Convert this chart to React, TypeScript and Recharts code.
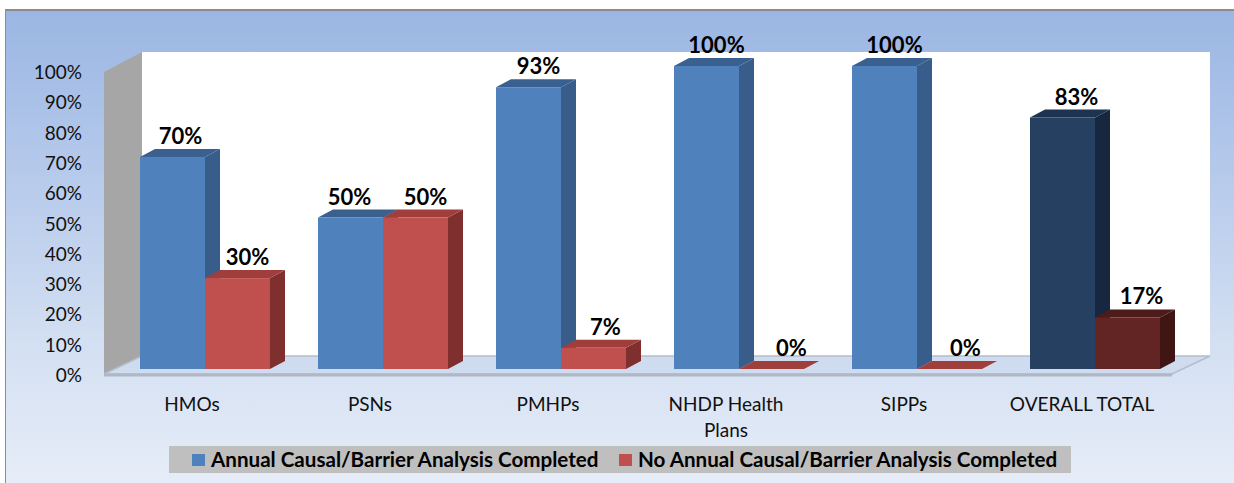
import React from "react";
import { BarChart, Bar, XAxis, YAxis, Cell, LabelList, Legend } from "recharts";

const categories = ["HMOs", "PSNs", "PMHPs", "NHDP Health Plans", "SIPPs", "OVERALL TOTAL"];
const completed = [70, 50, 93, 100, 100, 83];
const notCompleted = [30, 50, 7, 0, 0, 17];
const percentTicks = [0, 10, 20, 30, 40, 50, 60, 70, 80, 90, 100];

const completedName = "Annual Causal/Barrier Analysis Completed";
const notCompletedName = "No Annual Causal/Barrier Analysis Completed";

const data = categories.map((name, i) => ({
  name,
  completed: completed[i],
  notCompleted: notCompleted[i],
}));

const FONT = "Lato, 'Open Sans', sans-serif";
const W = 1234;
const H = 483;
// plot box of the front bars
const PLOT = { left: 116, right: 1184, top: 66, bottom: 369 };
const BAR_DEPTH = { x: 15, y: 8 };

// fake 3d faces, front / side / top
const BLUE = { front: "#4f81bd", side: "#385d8a", top: "#3a6090" };
const RED = { front: "#c0504d", side: "#7f302e", top: "#a03e3b" };
const NAVY = { front: "#254061", side: "#17273f", top: "#1d3350" };
const MAROON = { front: "#632523", side: "#3f1614", top: "#4d1c1a" };
const facesByFront: Record<string, typeof BLUE> = {
  [BLUE.front]: BLUE,
  [RED.front]: RED,
  [NAVY.front]: NAVY,
  [MAROON.front]: MAROON,
};

// label nudges
const completedLabelDx = [8, -1, 10, 10, 10, 14];
const notCompletedLabelDx = [10, 10, 12, 20, 16, 14];

function Bar3D(props: any) {
  const { x, y, width, height, fill } = props;
  const f = facesByFront[fill] || BLUE;
  const d = BAR_DEPTH;
  return (
    <g>
      <polygon
        points={`${x + width},${y} ${x + width + d.x},${y - d.y} ${x + width + d.x},${y + height - d.y} ${x + width},${y + height}`}
        fill={f.side}
      />
      <polygon
        points={`${x},${y} ${x + d.x},${y - d.y} ${x + width + d.x},${y - d.y} ${x + width},${y}`}
        fill={f.top}
      />
      <rect x={x} y={y} width={width} height={height} fill={f.front} />
    </g>
  );
}

function makeLabel(nudges: number[]) {
  return function BarLabel(props: any) {
    const { x, y, width, value, index } = props;
    return (
      <text
        x={x + width / 2 + nudges[index]}
        y={y - 13}
        textAnchor="middle"
        fontFamily={FONT}
        fontWeight={700}
        fontSize={22}
        fill="#000"
      >
        {value}%
      </text>
    );
  };
}

function CategoryTick(props: any) {
  const { x, y, payload } = props;
  const words = String(payload.value).split(" ");
  const lines =
    payload.value.length > 14
      ? [words.slice(0, -1).join(" "), words[words.length - 1]]
      : [payload.value];
  return (
    <text x={x - 13} textAnchor="middle" fontFamily={FONT} fontSize={19} fill="#111">
      {lines.map((line: string, i: number) => (
        <tspan key={line} x={x - 13} y={y + 34 + i * 26}>
          {line}
        </tspan>
      ))}
    </text>
  );
}

function PercentTick(props: any) {
  const { y, payload } = props;
  return (
    <text x={82} y={y + 13} textAnchor="end" fontFamily={FONT} fontSize={19} fill="#111">
      {payload.value}%
    </text>
  );
}

function LegendBox({ payload }: any) {
  const items = payload || [];
  return (
    <div
      style={{
        width: 902,
        height: 27,
        background: "#bfbfbf",
        position: "relative",
        fontFamily: FONT,
        fontWeight: 700,
        fontSize: 20.6,
        color: "#000",
        lineHeight: "27px",
        whiteSpace: "nowrap",
      }}
    >
      {items.map((item: any, i: number) => {
        const left = i === 0 ? 23 : 450;
        return (
          <span key={item.value} style={{ position: "absolute", left, top: 0 }}>
            <span
              style={{
                position: "absolute",
                left: 0,
                top: 8,
                width: 13,
                height: 12,
                background: item.color,
              }}
            />
            <span style={{ position: "absolute", left: 19, top: 0 }}>{item.value}</span>
          </span>
        );
      })}
    </div>
  );
}

export default function App() {
  return (
    <div style={{ position: "absolute", left: 0, top: 0, width: W, height: H, background: "#fff", overflow: "hidden" }}>
      <div
        style={{
          position: "absolute",
          left: 5,
          top: 9,
          width: W - 5,
          height: H - 9,
          boxSizing: "border-box",
          borderLeft: "1px solid #8c8c8c",
          borderTop: "2px solid #8c8c8c",
          background: "linear-gradient(180deg, #9bb6e3 0%, #b6caeb 35%, #d3dff2 70%, #e6edf8 100%)",
        }}
      />
      <div style={{ position: "absolute", left: 0, top: 0 }}>
        <BarChart
          width={W}
          height={H}
          data={data}
          barSize={65}
          barGap={0}
          margin={{ top: PLOT.top, right: W - PLOT.right, bottom: 0, left: 0 }}
        >
          {/* back wall, side wall and floor */}
          <polygon points="142,52 1210,52 1210,356 142,356" fill="#ffffff" />
          <polygon points="104,72 142,52 142,356 104,374" fill="#a6a6a6" />
          <polygon points="104,374 142,356 1210,356 1172,374" fill="#cfdbef" stroke="#b4bdcb" strokeWidth={1.5} />
          <line x1={104} y1={375} x2={1172} y2={375} stroke="#b0b8c6" strokeWidth={3} />
          <XAxis
            dataKey="name"
            axisLine={false}
            tickLine={false}
            interval={0}
            height={H - PLOT.bottom}
            tick={CategoryTick}
          />
          <YAxis
            domain={[0, 100]}
            ticks={percentTicks}
            axisLine={false}
            tickLine={false}
            width={PLOT.left}
            tick={PercentTick}
          />
          <Legend
            verticalAlign="middle"
            wrapperStyle={{ left: 169, top: 446, width: 902, height: 27 }}
            content={LegendBox}
          />
          <Bar dataKey="completed" name={completedName} fill={BLUE.front} shape={Bar3D} isAnimationActive={false}>
            {categories.map((c, i) => (
              <Cell key={c} fill={i === categories.length - 1 ? NAVY.front : BLUE.front} />
            ))}
            <LabelList dataKey="completed" content={makeLabel(completedLabelDx)} />
          </Bar>
          <Bar dataKey="notCompleted" name={notCompletedName} fill={RED.front} shape={Bar3D} isAnimationActive={false}>
            {categories.map((c, i) => (
              <Cell key={c} fill={i === categories.length - 1 ? MAROON.front : RED.front} />
            ))}
            <LabelList dataKey="notCompleted" content={makeLabel(notCompletedLabelDx)} />
          </Bar>
        </BarChart>
      </div>
    </div>
  );
}
